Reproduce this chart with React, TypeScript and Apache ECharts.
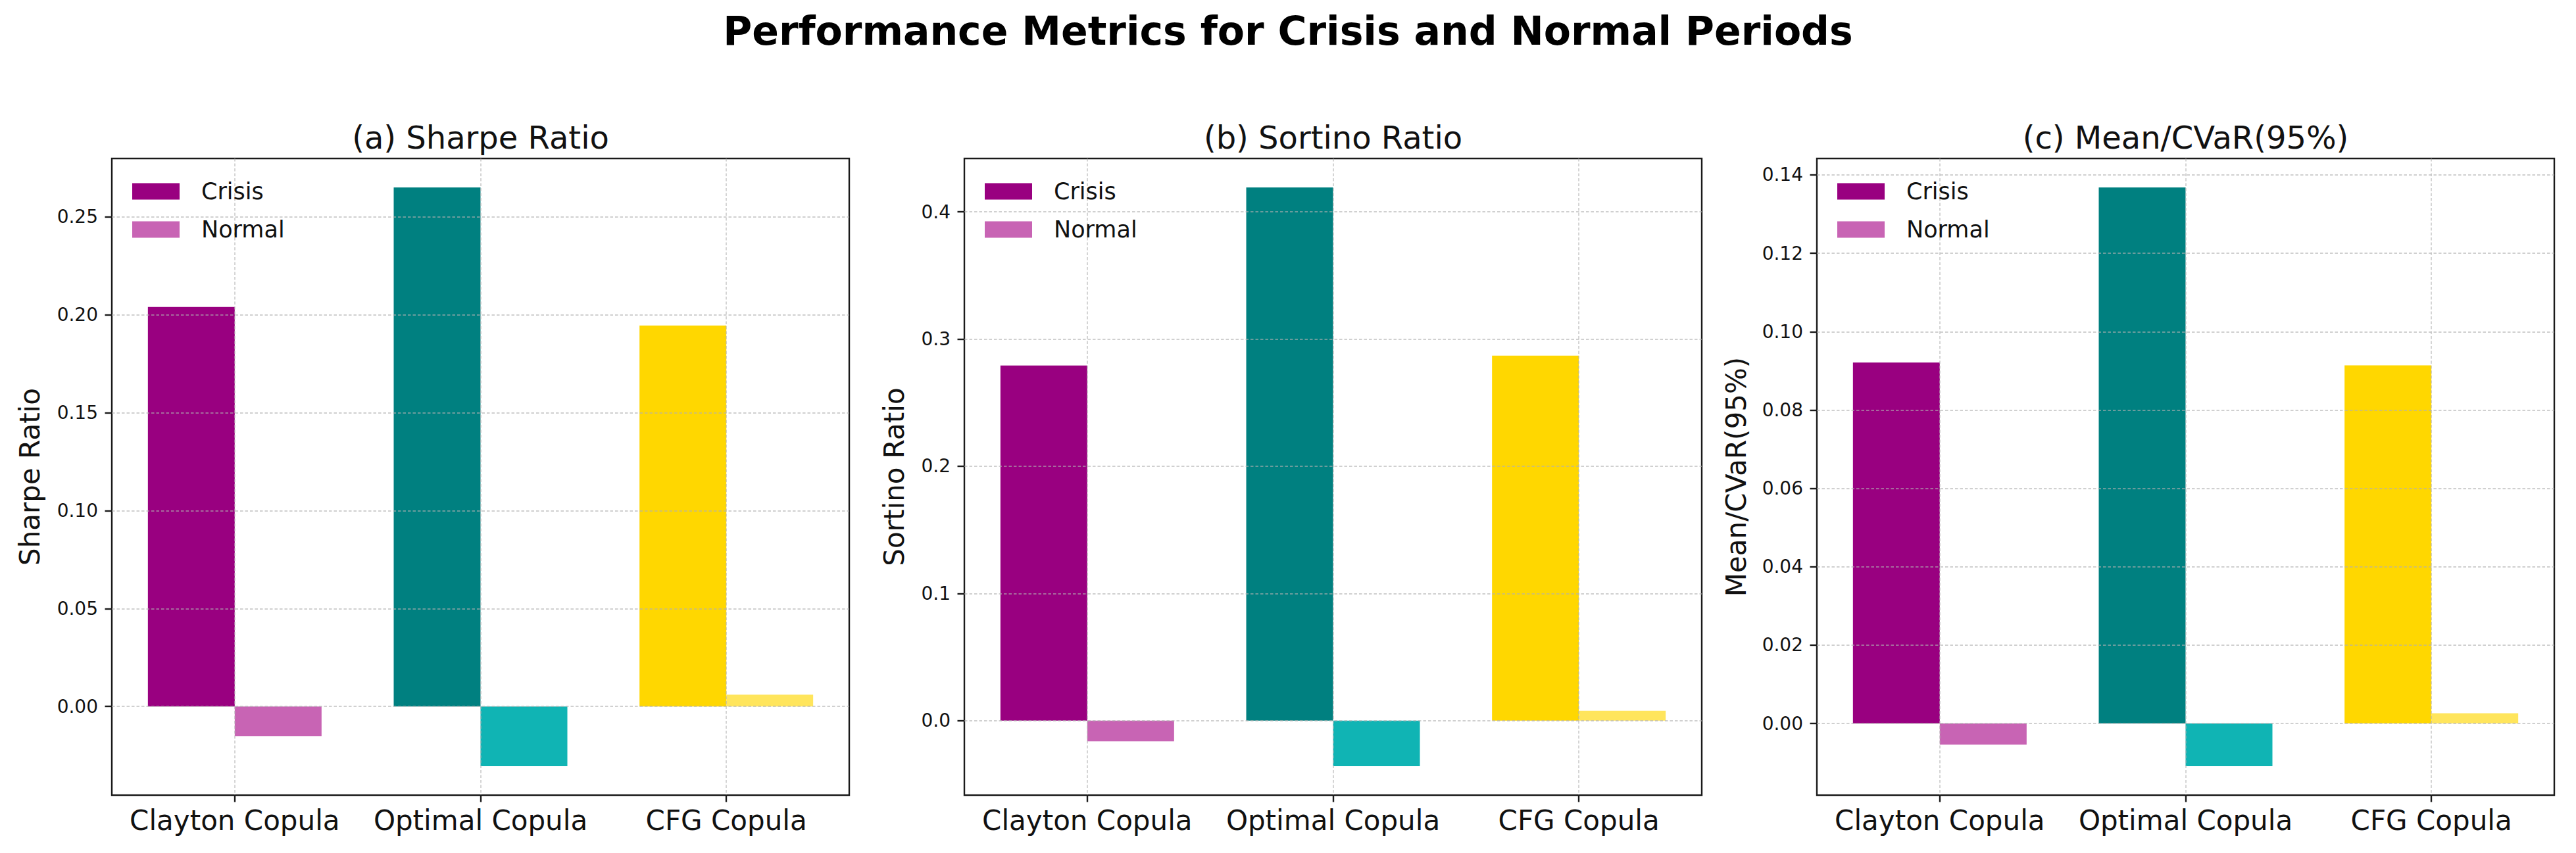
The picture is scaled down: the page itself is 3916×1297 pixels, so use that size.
import React, { useEffect, useRef } from "react";
import * as echarts from "echarts";

// ---- data ----
const categories = ["Clayton Copula", "Optimal Copula", "CFG Copula"];
const seriesNames = ["Crisis", "Normal"];
const sharpeCrisis = [0.204, 0.265, 0.1945];
const sharpeNormal = [-0.0151, -0.0305, 0.006];
const sortinoCrisis = [0.2792, 0.4192, 0.287];
const sortinoNormal = [-0.0163, -0.0358, 0.0078];
const cvarCrisis = [0.0921, 0.1368, 0.0914];
const cvarNormal = [-0.0054, -0.0109, 0.0026];
const crisisColors = ["#990080", "#008080", "#FFD700"];
const normalColors = ["#C864B4", "#10B4B4", "#FFE55C"];
const panelTitles = ["(a) Sharpe Ratio", "(b) Sortino Ratio", "(c) Mean/CVaR(95%)"];
const yAxisNames = ["Sharpe Ratio", "Sortino Ratio", "Mean/CVaR(95%)"];
const tickSteps = [0.05, 0.1, 0.02];
const tickDecimals = [2, 1, 2];
const suptitle = "Performance Metrics for Crisis and Normal Periods";

const panelData = [
  { crisis: sharpeCrisis, normal: sharpeNormal },
  { crisis: sortinoCrisis, normal: sortinoNormal },
  { crisis: cvarCrisis, normal: cvarNormal },
];

// ---- layout ----
const W = 3916;
const H = 1297;
const FONT = "DejaVu Sans";
const panelLefts = [170, 1466, 2762];
const panelWidth = 1121;
const panelTop = 241;
const panelHeight = 968;
const nameGaps = [104, 86, 102];
const splitNumbers = [6, 5, 8];
const gridColor = "rgba(176,176,176,0.6)";
const gridDash = [4.5, 3];
const textColor = "#111";

function limits(a: number[], b: number[]) {
  const all = [...a, ...b, 0];
  const lo = Math.min(...all);
  const hi = Math.max(...all);
  const m = (hi - lo) * 0.05;
  return [lo - m, hi + m];
}

function tickValues(lo: number, hi: number, step: number) {
  const out: number[] = [];
  for (let k = Math.ceil(lo / step - 1e-9); k * step <= hi + 1e-12; k++) {
    out.push(Math.round(k * step * 1e9) / 1e9);
  }
  return out;
}

function buildOption() {
  const grid: any[] = [];
  const xAxis: any[] = [];
  const yAxis: any[] = [];
  const series: any[] = [];
  const legend: any[] = [];
  const graphic: any[] = [];

  graphic.push({
    type: "text",
    x: W / 2,
    y: 46.5,
    silent: true,
    style: {
      text: suptitle,
      fontSize: 60,
      fontWeight: "bold",
      fontFamily: FONT,
      fill: "#000",
      align: "center",
      verticalAlign: "middle",
    },
  });

  panelData.forEach((p, i) => {
    const [lo, hi] = limits(p.crisis, p.normal);
    const ticks = tickValues(lo, hi, tickSteps[i]);
    const left = panelLefts[i];

    grid.push({
      left,
      top: panelTop,
      width: panelWidth,
      height: panelHeight,
      show: true,
      borderColor: "#1a1a1a",
      borderWidth: 2.4,
      backgroundColor: "transparent",
      containLabel: false,
      outerBoundsMode: "none",
    });

    xAxis.push({
      type: "category",
      gridIndex: i,
      data: categories,
      z: 3,
      axisLine: { show: false, onZero: false },
      axisTick: {
        show: true,
        alignWithLabel: true,
        interval: 0,
        length: 10.5,
        lineStyle: { color: "#1a1a1a", width: 2.4 },
      },
      axisLabel: {
        interval: 0,
        fontSize: 42,
        fontFamily: FONT,
        color: textColor,
        margin: 17,
      },
      splitLine: {
        show: true,
        alignWithLabel: true,
        interval: 0,
        lineStyle: { color: gridColor, type: gridDash, width: 1.8 },
      },
    });

    yAxis.push({
      type: "value",
      gridIndex: i,
      min: lo,
      max: hi,
      splitNumber: splitNumbers[i],
      z: 3,
      axisLine: { show: false },
      axisTick: {
        show: true,
        length: 10.5,
        customValues: ticks,
        lineStyle: { color: "#1a1a1a", width: 2.4 },
      },
      axisLabel: {
        fontSize: 28,
        fontFamily: FONT,
        color: textColor,
        margin: 21,
        customValues: ticks,
        showMinLabel: true,
        showMaxLabel: true,
        formatter: (v: number) => Number(v).toFixed(tickDecimals[i]),
      },
      splitLine: {
        show: true,
        lineStyle: { color: gridColor, type: gridDash, width: 1.8 },
      },
      name: yAxisNames[i],
      nameLocation: "middle",
      nameGap: nameGaps[i],
      nameTextStyle: { fontSize: 42, fontFamily: FONT, color: textColor },
    });

    series.push({
      type: "bar",
      name: seriesNames[0],
      xAxisIndex: i,
      yAxisIndex: i,
      barWidth: 132,
      barGap: "0%",
      itemStyle: { color: crisisColors[0] },
      emphasis: { disabled: true },
      data: p.crisis.map((v, j) => ({ value: v, itemStyle: { color: crisisColors[j] } })),
    });
    series.push({
      type: "bar",
      name: seriesNames[1],
      xAxisIndex: i,
      yAxisIndex: i,
      barWidth: 132,
      barGap: "0%",
      itemStyle: { color: normalColors[0] },
      emphasis: { disabled: true },
      data: p.normal.map((v, j) => ({ value: v, itemStyle: { color: normalColors[j] } })),
    });

    legend.push({
      data: seriesNames,
      orient: "vertical",
      left: left + 31,
      top: 273.5,
      padding: 0,
      itemWidth: 72,
      itemHeight: 25,
      itemGap: 23,
      icon: "rect",
      selectedMode: false,
      textStyle: {
        fontSize: 35,
        fontFamily: FONT,
        color: textColor,
        padding: [0, 0, 0, 28],
      },
    });

    graphic.push({
      type: "text",
      x: left + panelWidth / 2,
      y: 209,
      silent: true,
      style: {
        text: panelTitles[i],
        fontSize: 48,
        fontFamily: FONT,
        fill: textColor,
        align: "center",
        verticalAlign: "middle",
      },
    });
  });

  return {
    animation: false,
    backgroundColor: "#ffffff",
    textStyle: { fontFamily: FONT },
    grid,
    xAxis,
    yAxis,
    series,
    legend,
    graphic,
  };
}

export default function App() {
  const ref = useRef<HTMLDivElement>(null);
  useEffect(() => {
    if (!ref.current) return;
    const chart = echarts.init(ref.current, undefined, { renderer: "svg" });
    chart.setOption(buildOption() as any);
    return () => chart.dispose();
  }, []);
  return (
    <div
      ref={ref}
      style={{ position: "absolute", left: 0, top: 0, width: W, height: H, background: "#fff" }}
    />
  );
}
